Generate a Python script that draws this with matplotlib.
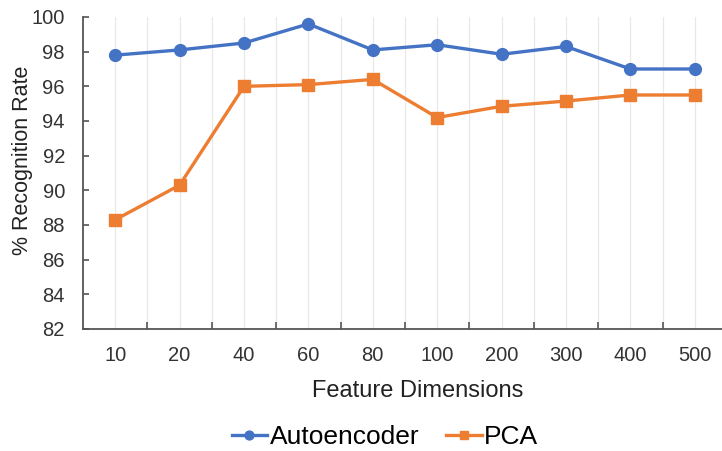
import matplotlib
matplotlib.use("Agg")
import matplotlib.pyplot as plt
import numpy as np

dimensions = ["10", "20", "40", "60", "80", "100", "200", "300", "400", "500"]
autoencoder = [97.8, 98.1, 98.5, 99.6, 98.1, 98.4, 97.85, 98.3, 97.0, 97.0]
pca = [88.3, 90.3, 96.0, 96.1, 96.4, 94.2, 94.85, 95.15, 95.5, 95.5]
y_ticks = [82, 84, 86, 88, 90, 92, 94, 96, 98, 100]

plt.rcParams["font.family"] = ["Liberation Sans", "DejaVu Sans"]

fig = plt.figure(figsize=(7.22, 4.51), dpi=100)
ax = fig.add_axes([83 / 722, 1 - 329 / 451, (727 - 83) / 722, (329 - 17) / 451])

x = np.arange(len(dimensions))
ax.plot(x, autoencoder, color="#4472C4", lw=2.4, marker="o", ms=8.5, label="Autoencoder", zorder=3)
ax.plot(x, pca, color="#ED7D31", lw=2.4, marker="s", ms=8, label="PCA", zorder=3)

ax.set_xlim(-0.5, len(dimensions) - 0.5)
ax.set_ylim(82, 100)
ax.set_yticks(y_ticks)
ax.set_yticklabels([str(v) for v in y_ticks], fontsize=14.5, color="#333333")

# category labels at centres, tick marks at category boundaries
ax.set_xticks(x)
ax.set_xticklabels(dimensions, fontsize=14.5, color="#333333")
ax.tick_params(axis="x", which="major", length=0, pad=12)
ax.set_xticks(np.arange(0.5, len(dimensions) - 0.5, 1.0), minor=True)
ax.tick_params(axis="x", which="minor", direction="in", length=5, width=1.2, color="#555555")
ax.tick_params(axis="y", direction="in", length=4, width=1.2, color="#555555", pad=13)

for xv in np.arange(0, len(dimensions), 0.5):
    ax.axvline(xv, color="#e8e8e8", lw=0.9, zorder=0)

for side in ["top", "right"]:
    ax.spines[side].set_visible(False)
for side in ["left", "bottom"]:
    ax.spines[side].set_color("#555555")
    ax.spines[side].set_linewidth(1.3)

ax.set_ylabel("% Recognition Rate", fontsize=15.5, color="#222222")
ax.yaxis.set_label_coords(-0.077, 0.54)
ax.set_xlabel("Feature Dimensions", fontsize=17, color="#222222", labelpad=13)
ax.xaxis.set_label_coords(0.52, -0.165)
ax.xaxis.label.set_va("top")

fig.legend(loc="center", bbox_to_anchor=(385 / 722, 1 - 437 / 451), ncol=2, frameon=False,
           fontsize=19, handlelength=1.35, handletextpad=0.1, columnspacing=1.0,
           markerscale=0.75)

fig.savefig("out.png", dpi=100)
